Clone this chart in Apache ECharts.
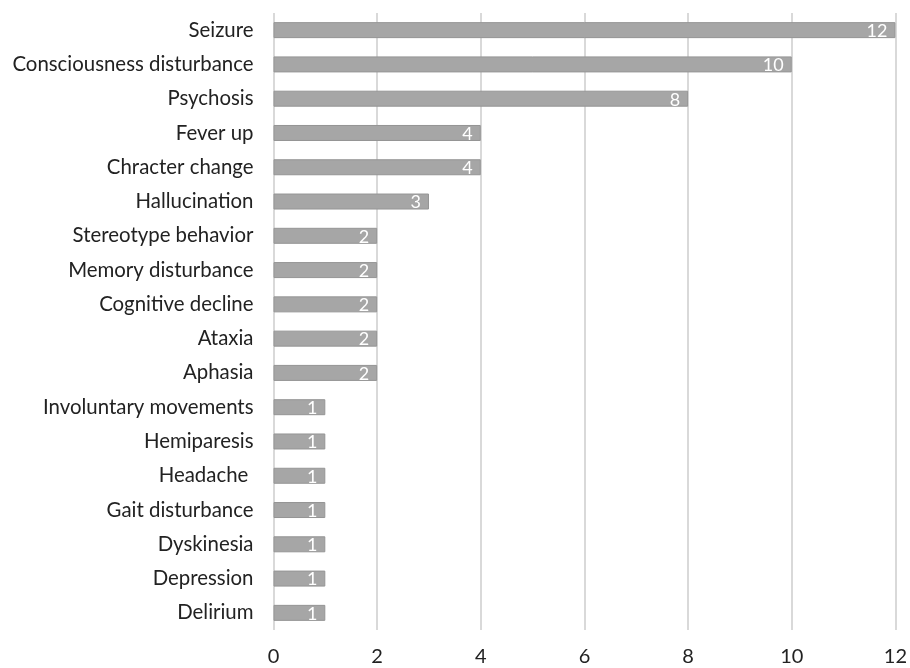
<!DOCTYPE html>
<html><head><meta charset="utf-8">
<script src="https://cdn.jsdelivr.net/npm/echarts@6/dist/echarts.min.js"></script>
<style>html,body{margin:0;padding:0;background:#fff}#c{width:910px;height:668px}</style>
</head><body><div id="c"></div>
<script>
var categories = ["Seizure","Consciousness disturbance","Psychosis","Fever up","Chracter change","Hallucination","Stereotype behavior","Memory disturbance","Cognitive decline","Ataxia","Aphasia","Involuntary movements","Hemiparesis","Headache ","Gait disturbance","Dyskinesia","Depression","Delirium"];
var values = [12,10,8,4,4,3,2,2,2,2,2,1,1,1,1,1,1,1];
var xTicks = [0,2,4,6,8,10,12];
var chart = echarts.init(document.getElementById('c'));
chart.setOption({
  animation:false,
  grid:{left:273.5,right:12,top:13,bottom:38,containLabel:false},
  xAxis:{type:'value',min:0,max:12,interval:2,
    axisLine:{show:false},axisTick:{show:false},
    axisLabel:{color:'#222',fontSize:20,fontFamily:'Lato',margin:17,
      formatter:function(v){return xTicks.indexOf(v)>=0?String(v):'';}},
    splitLine:{lineStyle:{color:'#d9d9d9',width:2}}},
  yAxis:{type:'category',inverse:true,data:categories,
    axisLine:{show:false},axisTick:{show:false},
    axisLabel:{color:'#222',fontSize:20.4,fontFamily:'Lato',margin:20}},
  series:[{type:'bar',data:values,barWidth:16,
    itemStyle:{color:'#a6a6a6',borderColor:'#959595',borderWidth:1},
    label:{show:true,position:'insideRight',color:'#fff',fontSize:18,fontFamily:'Lato',offset:[-3,1]}}]
});
</script></body></html>
